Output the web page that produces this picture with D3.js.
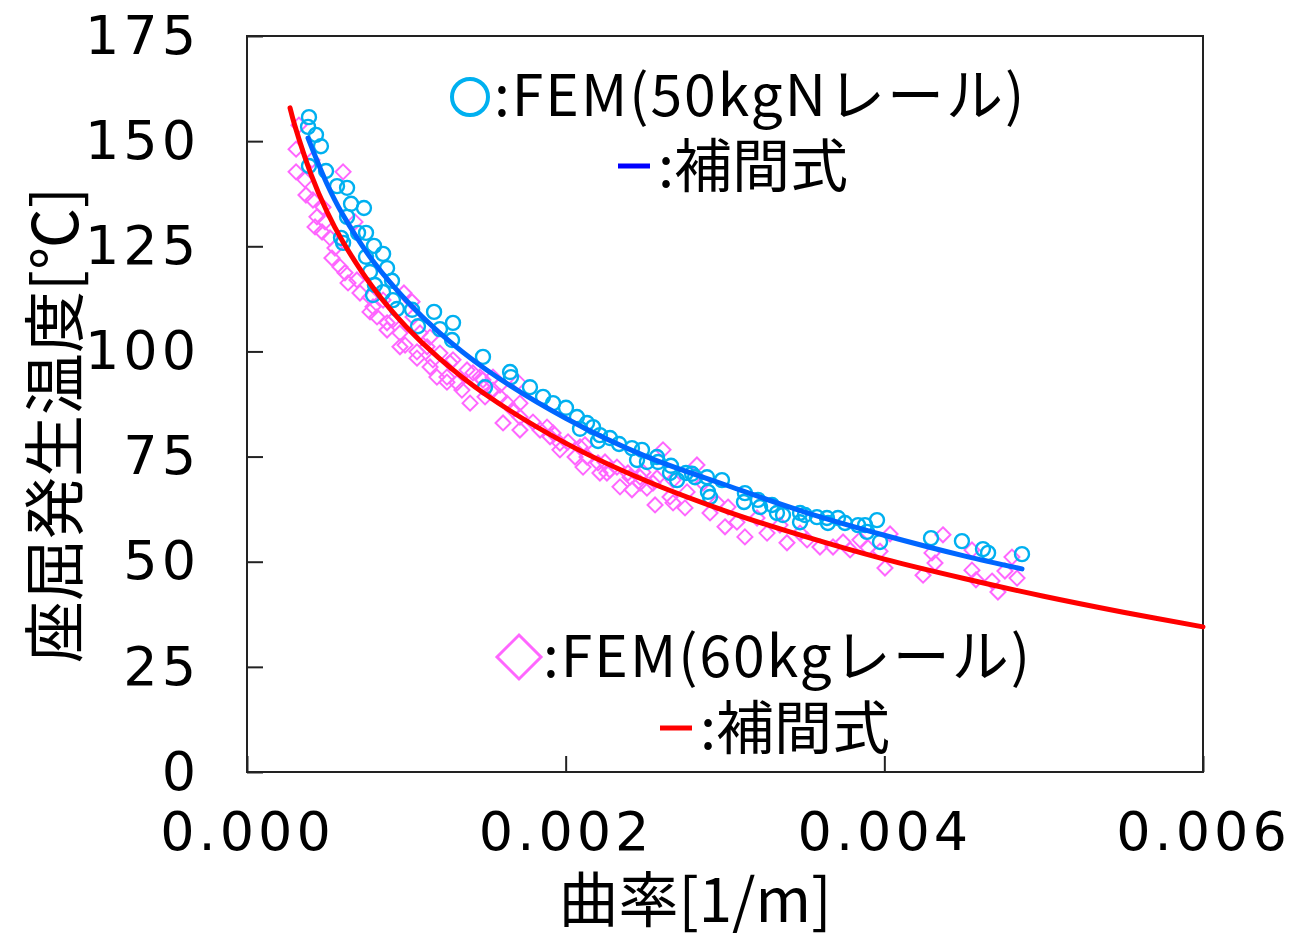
<!DOCTYPE html>
<html>
<head>
<meta charset="utf-8">
<script src="https://cdn.jsdelivr.net/npm/d3@7"></script>
<style>
  body { margin: 0; background: #fff; }
  svg { display: block; }
</style>
</head>
<body>
<svg id="chart" width="1311" height="938"></svg>
<script>
// FEM results, 50kgN rail (curvature [1/m], temperature [C])
const fem50x = [0.000389,0.000383,0.000433,0.000464,0.000389,0.000496,0.000565,0.000628,0.000653,0.000734,
  0.000628,0.000590,0.000697,0.000747,0.000603,0.000797,0.000854,0.000747,0.000879,0.000772,
  0.000910,0.000803,0.000854,0.000791,0.000916,0.000941,0.001036,0.001174,0.001073,0.001293,
  0.001211,0.001287,0.001481,0.001651,0.001657,0.001494,0.001776,0.001858,0.001921,0.002002,
  0.002071,0.002134,0.002172,0.002090,0.002203,0.002215,0.002278,0.002335,0.002416,0.002479,
  0.002448,0.002510,0.002573,0.002580,0.002661,0.002655,0.002755,0.002793,0.002812,0.002887,
  0.002981,0.002699,0.002893,0.002906,0.003125,0.003119,0.003207,0.003220,0.003295,0.003326,
  0.003364,0.003471,0.003502,0.003471,0.003577,0.003640,0.003646,0.003709,0.003753,0.003835,
  0.003879,0.003891,0.003954,0.003973,0.004293,0.004487,0.004619,0.004651,0.004864];
const fem50y = [155.7,153.4,151.5,148.8,144.1,142.9,139.3,138.9,135.1,134.1,
  132.0,127.0,128.2,128.2,125.8,125.1,123.2,122.5,119.8,118.9,
  116.8,115.8,114.1,113.4,112.2,110.1,109.9,109.4,106.0,106.8,
  105.3,102.7,98.7,95.1,93.9,91.5,91.5,89.2,87.7,86.6,
  84.4,83.0,82.0,81.6,78.7,80.1,79.4,78.0,77.0,76.6,
  74.2,73.7,74.9,73.7,72.8,71.1,71.1,70.9,70.1,70.1,
  69.4,69.4,66.6,65.4,66.3,64.2,64.7,63.0,63.5,61.6,
  61.1,61.6,61.1,59.4,60.6,60.4,59.2,60.4,59.2,58.7,
  58.7,57.1,59.9,54.7,55.6,54.9,53.0,52.1,51.8];

// FEM results, 60kg rail
const fem60x = [0.000326,0.000308,0.000408,0.000308,0.000603,0.000364,0.000370,0.000414,0.000477,0.000439,
  0.000490,0.000427,0.000471,0.000521,0.000552,0.000533,0.000584,0.000615,0.000634,0.000678,
  0.000690,0.000709,0.000772,0.000772,0.000791,0.000816,0.000854,0.000879,0.000879,0.000916,
  0.000960,0.000960,0.000985,0.001036,0.001042,0.000992,0.001067,0.001067,0.001086,0.001130,
  0.001149,0.001149,0.001167,0.001192,0.001211,0.001255,0.001255,0.001274,0.001293,0.001318,
  0.001349,0.001381,0.001400,0.001418,0.001462,0.001481,0.001481,0.001494,0.001544,0.001544,
  0.001588,0.001588,0.001607,0.001632,0.001669,0.001701,0.001713,0.001713,0.001713,0.001795,
  0.001839,0.001883,0.001902,0.001921,0.001964,0.001964,0.002015,0.002059,0.002090,0.002121,
  0.002109,0.002134,0.002203,0.002215,0.002247,0.002259,0.002278,0.002322,0.002341,0.002391,
  0.002404,0.002416,0.002467,0.002467,0.002485,0.002510,0.002548,0.002561,0.002573,0.002611,
  0.002655,0.002674,0.002674,0.002749,0.002762,0.002824,0.002862,0.002906,0.002950,0.003000,
  0.003019,0.003075,0.003125,0.003201,0.003264,0.003345,0.003389,0.003471,0.003515,0.003596,
  0.003678,0.003741,0.003785,0.003847,0.003898,0.003973,0.004004,0.004036,0.004243,0.004299,
  0.004318,0.004368,0.004550,0.004550,0.004575,0.004676,0.004713,0.004757,0.004801,0.004833];
const fem60y = [153.8,148.1,145.5,142.7,142.7,140.8,137.2,136.0,134.3,132.0,
  130.8,129.6,128.4,127.0,124.6,122.2,120.1,118.7,116.3,130.8,
  117.0,113.9,112.9,109.4,110.6,108.2,112.2,106.8,105.1,107.5,
  104.4,101.1,113.9,111.8,108.2,101.5,99.9,98.4,104.4,101.1,
  103.4,96.3,98.0,93.9,99.6,93.9,92.7,97.3,98.0,92.5,
  90.8,95.6,87.7,94.9,93.9,93.2,91.5,89.2,93.9,90.8,
  92.0,89.2,83.0,87.7,86.1,92.7,84.4,87.7,81.3,83.2,
  81.3,82.0,79.7,80.6,78.2,76.6,78.5,74.9,77.3,77.8,
  72.5,74.9,73.5,71.1,73.7,71.1,71.8,72.5,67.8,71.1,
  70.1,67.1,70.1,68.7,71.3,67.5,68.7,63.5,69.9,76.6,
  65.4,69.4,64.0,62.8,66.6,73.0,68.7,61.6,64.0,58.3,
  63.0,59.4,55.9,60.4,56.8,58.7,54.5,56.8,55.2,53.5,
  53.5,54.7,52.8,55.2,53.3,52.5,48.5,56.6,46.8,52.1,
  49.7,56.4,52.8,48.0,45.7,45.4,42.8,47.8,51.1,46.1];

// interpolation curves
const fit50x = [0.000383,0.0005,0.0006,0.0008,0.001,0.0012,0.0015,0.002,0.0025,0.003,0.0035,0.004,0.0045,0.004864];
const fit50y = [150.7,140.0,132.6,121.0,112.1,104.7,95.7,84.1,75.1,68.3,61.8,56.3,51.4,48.3];
const fit60x = [0.00027,0.0003,0.0004,0.0005,0.0006,0.0008,0.001,0.0012,0.0015,0.002,0.0025,0.003,0.0035,0.004,0.0045,0.005,0.0055,0.006];
const fit60y = [157.9,153.7,142.3,133.4,126.2,114.7,105.8,98.6,89.7,78.2,69.3,62.1,56.0,50.6,46.0,41.8,38.0,34.5];

const xTicks = [0, 0.002, 0.004, 0.006];
const yTicks = [0, 25, 50, 75, 100, 125, 150, 175];

const svg = d3.select("#chart");
const plotL = 247, plotR = 1203, plotT = 36, plotB = 772;

const x = d3.scaleLinear().domain([0, 0.006]).range([plotL, plotR]);
const y = d3.scaleLinear().domain([0, 175]).range([plotB, plotT]);

const numFont = "'DejaVu Sans', sans-serif";
const jpFont = "'Noto Sans CJK JP', sans-serif";

// frame
svg.append("rect")
  .attr("x", plotL).attr("y", plotT)
  .attr("width", plotR - plotL).attr("height", plotB - plotT)
  .attr("fill", "none").attr("stroke", "#222").attr("stroke-width", 2);

// axes (ticks point inward)
const gy = svg.append("g").attr("transform", "translate(" + plotL + ",0)")
  .call(d3.axisLeft(y).tickValues(yTicks).tickSize(-16).tickPadding(47).tickFormat(d3.format("d")));
const gx = svg.append("g").attr("transform", "translate(0," + plotB + ")")
  .call(d3.axisBottom(x).tickValues(xTicks).tickSize(-16).tickPadding(40).tickFormat(d3.format(".3f")));
[gx, gy].forEach(g => {
  g.select(".domain").remove();
  g.selectAll(".tick line").attr("stroke", "#222").attr("stroke-width", 2);
  g.selectAll(".tick text")
    .attr("fill", "#000")
    .style("font-family", numFont)
    .style("font-size", "54px")
    .style("letter-spacing", "4px");
});

// scatter: 60kg diamonds
const dsz = 7.5;
function diamond(cx, cy, s) {
  return "M" + cx + "," + (cy - s) + "L" + (cx + s) + "," + cy + "L" + cx + "," + (cy + s) + "L" + (cx - s) + "," + cy + "Z";
}
svg.append("g").selectAll("path")
  .data(d3.zip(fem60x, fem60y))
  .enter().append("path")
  .attr("d", d => diamond(x(d[0]), y(d[1]), dsz))
  .attr("fill", "none")
  .attr("stroke", "#ff66ff")
  .attr("stroke-width", 2);

// scatter: 50kgN circles
svg.append("g").selectAll("circle")
  .data(d3.zip(fem50x, fem50y))
  .enter().append("circle")
  .attr("cx", d => x(d[0]))
  .attr("cy", d => y(d[1]))
  .attr("r", 7)
  .attr("fill", "none")
  .attr("stroke", "#00b0f0")
  .attr("stroke-width", 2.4);

// fitted curves
const line = d3.line().x(d => x(d[0])).y(d => y(d[1])).curve(d3.curveCatmullRom);
svg.append("path")
  .datum(d3.zip(fit60x, fit60y))
  .attr("d", line)
  .attr("fill", "none").attr("stroke", "#ff0000").attr("stroke-width", 5).attr("stroke-linecap", "round");
svg.append("path")
  .datum(d3.zip(fit50x, fit50y))
  .attr("d", line)
  .attr("fill", "none").attr("stroke", "#0066ff").attr("stroke-width", 5).attr("stroke-linecap", "round");

// legend
function legendText(xStart, yBase, label) {
  return svg.append("text")
    .attr("x", xStart).attr("y", yBase)
    .style("font-family", jpFont)
    .style("font-size", "57px")
    .style("letter-spacing", "2px")
    .attr("fill", "#000")
    .text(label);
}
function fitLegend(xStart, yBase, color) {
  svg.append("line")
    .attr("x1", xStart).attr("x2", xStart + 32)
    .attr("y1", yBase - 21).attr("y2", yBase - 21)
    .attr("stroke", color).attr("stroke-width", 5);
  svg.append("text")
    .attr("x", xStart + 40).attr("y", yBase)
    .style("font-family", jpFont)
    .style("font-size", "58px")
    .attr("fill", "#000")
    .text(":補間式");
}
svg.append("circle")
  .attr("cx", 470).attr("cy", 97).attr("r", 18)
  .attr("fill", "none").attr("stroke", "#00b0f0").attr("stroke-width", 4);
legendText(494, 116, ":FEM(50kgNレール)");
fitLegend(618, 187, "#0000ff");

svg.append("path")
  .attr("d", diamond(519, 657, 22))
  .attr("fill", "none").attr("stroke", "#ff66ff").attr("stroke-width", 3);
legendText(543, 677, ":FEM(60kgレール)");
fitLegend(660, 749, "#ff0000");

// axis titles
svg.append("text")
  .attr("x", 695).attr("y", 922)
  .attr("text-anchor", "middle")
  .style("font-family", jpFont)
  .style("font-size", "60px")
  .text("曲率[1/m]");
svg.append("text")
  .attr("transform", "translate(78,425) rotate(-90)")
  .attr("text-anchor", "middle")
  .style("font-family", jpFont)
  .style("font-size", "62px")
  .text("座屈発生温度[℃]");
</script>
</body>
</html>
